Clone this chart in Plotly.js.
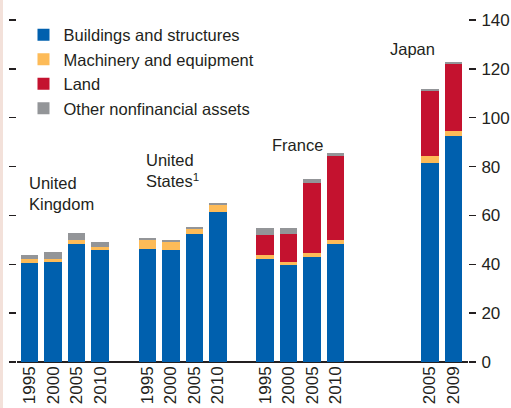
<!DOCTYPE html>
<html>
<head>
<meta charset="utf-8">
<script src="https://cdn.plot.ly/plotly-3.0.1.min.js"></script>
<style>
  html, body { margin: 0; padding: 0; background: #ffffff; }
  #chart { width: 511px; height: 408px; }
</style>
</head>
<body>
<div id="chart"></div>
<script>
// ---- Data ----
const categories = [
  "UK 1995", "UK 2000", "UK 2005", "UK 2010",
  "US 1995", "US 2000", "US 2005", "US 2010",
  "FR 1995", "FR 2000", "FR 2005", "FR 2010",
  "JP 2005", "JP 2009"
];
const yearLabels = [
  "1995", "2000", "2005", "2010",
  "1995", "2000", "2005", "2010",
  "1995", "2000", "2005", "2010",
  "2005", "2009"
];
const buildings = [40.4, 40.9, 48.4, 45.7, 46.4, 45.7, 52.5, 61.5, 42.2, 39.6, 43.1, 48.4, 81.5, 92.5];
const machinery = [1.9, 1.4, 1.5, 1.5, 3.5, 3.4, 2.1, 2.8, 1.5, 1.3, 1.5, 1.7, 2.8, 2.1];
const land      = [0, 0, 0, 0, 0, 0, 0, 0, 8.2, 11.6, 28.7, 34.1, 26.6, 27.5];
const other     = [1.4, 2.7, 2.8, 2.0, 0.7, 0.8, 0.8, 0.8, 2.8, 2.2, 1.5, 1.5, 0.7, 0.6];
const seriesNames = ["Buildings and structures", "Machinery and equipment", "Land", "Other nonfinancial assets"];
const countryLabels = ["United<br>Kingdom", "United<br>States<sup>1</sup>", "France", "Japan"];
const yTicks = [0, 20, 40, 60, 80, 100, 120, 140];

// ---- Layout helpers ----
const groupSizes = [4, 4, 4, 2];
const gapsAfter = [1, 1, 3];
const catOrder = [];
let k = 0;
groupSizes.forEach((n, g) => {
  for (let i = 0; i < n; i++) { catOrder.push(categories[k]); k++; }
  if (g < gapsAfter.length) {
    for (let j = 0; j < gapsAfter[g]; j++) { catOrder.push("gap" + g + "_" + j); }
  }
});

const colors = ["#0060ae", "#fdbb58", "#c4122f", "#939598"];
const values = [buildings, machinery, land, other];
const font = "'Liberation Sans Narrow', 'Arial Narrow', 'Liberation Sans', Arial, sans-serif";
const txt = "#231f20";

const traces = values.map((v, i) => ({
  type: "bar",
  name: seriesNames[i],
  x: categories,
  y: v,
  width: 0.74,
  marker: { color: colors[i], line: { width: 0 } },
  hoverinfo: "y+name"
}));

// invisible helper trace so the left tick axis is drawn
traces.push({
  type: "scatter", x: [categories[0]], y: [0], yaxis: "y2",
  mode: "markers", marker: { opacity: 0 }, showlegend: false, hoverinfo: "skip"
});

const annPos = [
  { x: -0.12, y: 60 },
  { x: 4.87, y: 69.5 },
  { x: 10.22, y: 84.5 },
  { x: 15.23, y: 123.5 }
];
const annotations = countryLabels.map((t, i) => ({
  text: t, x: annPos[i].x, y: annPos[i].y, xref: "x", yref: "y",
  xanchor: "left", yanchor: "bottom", align: "left", showarrow: false,
  font: { family: font, size: 16.5, color: txt }
}));

const plotL = 17, plotW = 451;

const layout = {
  width: 511, height: 408,
  margin: { l: plotL, r: 511 - plotL - plotW, t: 20, b: 46 },
  paper_bgcolor: "#ffffff",
  plot_bgcolor: "#ffffff",
  barmode: "stack",
  showlegend: true,
  legend: {
    x: 0.0144, y: 1.007, xanchor: "left", yanchor: "top",
    traceorder: "normal", bgcolor: "rgba(0,0,0,0)",
    font: { family: font, size: 16.5, color: txt },
    itemwidth: 30, tracegroupgap: 0
  },
  xaxis: {
    type: "category",
    categoryorder: "array",
    categoryarray: catOrder,
    range: [-0.53, 18.62],
    tickmode: "array",
    tickvals: categories,
    ticktext: yearLabels,
    tickangle: -90,
    ticks: "",
    showgrid: false,
    zeroline: false,
    showline: false,
    tickfont: { family: font, size: 17, color: txt },
    fixedrange: true
  },
  yaxis: {
    side: "right",
    range: [0, 140],
    tickmode: "array",
    tickvals: yTicks,
    ticks: "outside",
    ticklen: 7,
    tickwidth: 1.3,
    tickcolor: txt,
    showline: false,
    showgrid: false,
    zeroline: true,
    zerolinecolor: txt,
    zerolinewidth: 1.5,
    tickfont: { family: font, size: 17, color: txt },
    ticklabelstandoff: 2,
    fixedrange: true
  },
  yaxis2: {
    overlaying: "y",
    side: "left",
    range: [0, 140],
    tickmode: "array",
    tickvals: yTicks,
    ticks: "outside",
    ticklen: 7,
    tickwidth: 1.3,
    tickcolor: txt,
    showticklabels: false,
    showline: false,
    showgrid: false,
    zeroline: false,
    fixedrange: true
  },
  annotations: annotations,
  shapes: [{
    type: "rect", xref: "paper", yref: "paper",
    x0: -plotL / plotW, x1: (3 - plotL) / plotW, y0: -46 / 342, y1: 1 + 20 / 342,
    fillcolor: "#f3e1da", line: { width: 0 }, layer: "below"
  }]
};

Plotly.newPlot("chart", traces, layout, { displayModeBar: false, staticPlot: true });
</script>
</body>
</html>
